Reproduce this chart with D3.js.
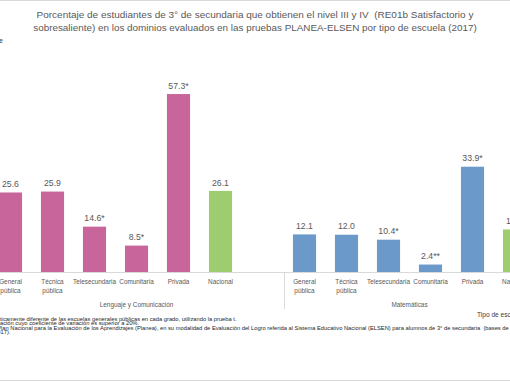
<!DOCTYPE html>
<html><head><meta charset="utf-8">
<script src="https://cdn.jsdelivr.net/npm/d3@7"></script>
<style>html,body{margin:0;padding:0;background:#fff;overflow:hidden}svg{display:block;font-family:"Liberation Sans",Arial,sans-serif}</style>
</head><body>
<script>
const titleLines = ["Porcentaje de estudiantes de 3° de secundaria que obtienen el nivel III y IV  (RE01b Satisfactorio y",
  "sobresaliente) en los dominios evaluados en las pruebas PLANEA-ELSEN por tipo de escuela (2017)"];
const categories = ["General pública","Técnica pública","Telesecundaria","Comunitaria","Privada","Nacional"];
const categoryLines = [["General","pública"],["Técnica","pública"],["Telesecundaria"],["Comunitaria"],["Privada"],["Nacional"]];
const groups = ["Lenguaje y Comunicación","Matemáticas"];
const lenguajeValues = [25.6,25.9,14.6,8.5,57.3,26.1];
const lenguajeLabels = ["25.6","25.9","14.6*","8.5*","57.3*","26.1"];
const matematicasValues = [12.1,12.0,10.4,2.4,33.9,13.7];
const matematicasLabels = ["12.1","12.0","10.4*","2.4**","33.9*","13.7"];
const groupColors = ["#c8659a","#6a99ca"];
const nationalColor = "#9dcd6f";
const noteParts = [
  ["* Estadís", "ticamente diferente de las escuelas generales públicas en cada grado, utilizando la prueba t."],
  ["** Estim", "ación cuyo coeficiente de variación es superior a 20%."],
  ["Fuente: INEE, cálculos con base en el P", "lan Nacional para la Evaluación de los Aprendizajes (Planea), en su modalidad de Evaluación del Logro referida al Sistema Educativo Nacional (ELSEN) para alumnos de 3° de secundaria", "  (bases de datos),"],
  ["20", "17)."]
];
const axisTitle = "Tipo de escuela";
const yTitle = "Porcentaje";

const W = 510, H = 382;
const svg = d3.select("body").append("svg").attr("width", W).attr("height", H);
const txt = "#595959";

svg.append("line").attr("x1",0).attr("x2",W).attr("y1",0.5).attr("y2",0.5).attr("stroke","#d9d9d9");
svg.append("line").attr("x1",0).attr("x2",W).attr("y1",380.5).attr("y2",380.5).attr("stroke","#d9d9d9");

const tY = [17.6, 31.1];
const tW = [437, 444];
titleLines.forEach((t,i)=>{
  const el = svg.append("text").attr("x",255).attr("y",tY[i]).attr("text-anchor","middle")
    .attr("fill",txt).attr("font-size",10).attr("xml:space","preserve").style("white-space","pre").text(t);
  const len = el.node().getComputedTextLength();
  el.attr("font-size", 10*tW[i]/len);
});
svg.append("text").attr("x",3).attr("y",43).attr("text-anchor","end").attr("fill",txt)
  .attr("font-size",7).attr("font-weight","bold").text(yTitle);

const slots = [];
categories.forEach((c,i)=>slots.push({key:"L"+i, g:0, i, v:lenguajeValues[i], lab:lenguajeLabels[i]}));
slots.push({key:"Lblank", g:0, blank:true});
categories.forEach((c,i)=>slots.push({key:"M"+i, g:1, i, v:matematicasValues[i], lab:matematicasLabels[i]}));

const x = d3.scaleBand().domain(slots.map(d=>d.key)).range([-10.5,535.5]).paddingInner(0.45).paddingOuter(0.225);
const y = d3.scaleLinear().domain([0,70]).range([272,54.6]);
const step = x.step();
const gap = (step - x.bandwidth())/2;

const bars = slots.filter(d=>!d.blank);
svg.selectAll("rect.bar").data(bars).join("rect").attr("class","bar")
  .attr("x",d=>x(d.key)).attr("width",x.bandwidth())
  .attr("y",d=>y(d.v)).attr("height",d=>y(0)-y(d.v))
  .attr("fill",d=>d.i===5?nationalColor:groupColors[d.g]);

svg.selectAll("text.val").data(bars).join("text").attr("class","val")
  .attr("x",d=>x(d.key)+x.bandwidth()/2).attr("y",d=>y(d.v)-5.3)
  .attr("text-anchor","middle").attr("fill",txt).attr("font-size",8.7).text(d=>d.lab);

svg.append("line").attr("x1",-10).attr("x2",W).attr("y1",272.5).attr("y2",272.5).attr("stroke","#d9d9d9");
[x("L0")-gap, x("M0")-gap].forEach(sx=>{
  svg.append("line").attr("x1",Math.round(sx)+0.5).attr("x2",Math.round(sx)+0.5).attr("y1",272).attr("y2",309)
    .attr("stroke","#d9d9d9");
});

svg.selectAll("g.cl").data(bars).join("g").attr("class","cl").each(function(d){
  const g = d3.select(this);
  categoryLines[d.i].forEach((l,k)=>{
    g.append("text").attr("x",x(d.key)+x.bandwidth()/2).attr("y",284.3+k*9)
      .attr("text-anchor","middle").attr("fill",txt).attr("font-size",6.4).text(l);
  });
});

groups.forEach((gname,gi)=>{
  const keys = slots.filter(s=>s.g===gi && !s.blank).map(s=>s.key);
  const a = x(keys[0]) - gap;
  const lastKey = gi===0 ? "Lblank" : keys[keys.length-1];
  const b = x(lastKey)+x.bandwidth()+gap;
  svg.append("text").attr("x",(a+b)/2).attr("y",307.4).attr("text-anchor","middle")
    .attr("fill",txt).attr("font-size",6.4).text(gname);
});

svg.append("text").attr("x",477).attr("y",316.6).attr("fill","#404040").attr("font-size",6.6).text(axisTitle);

// notes: font size from the visible width of the first note
const probe = svg.append("text").attr("font-size",10).text(noteParts[0][1]);
const nfs = 10*237/probe.node().getComputedTextLength();
probe.remove();
const noteY = [320.6, 325.2, 329.6, 333.7];
const noteOffset = [0, 0, 1.0, 0.5];
noteParts.forEach((p,i)=>{
  const full = p.join("");
  const t = svg.append("text").attr("x",0).attr("y",noteY[i]).attr("fill","#262626")
    .attr("font-size",nfs).attr("xml:space","preserve").style("white-space","pre").text(full);
  const w = t.node().getSubStringLength(0,p[0].length);
  t.attr("x",-w+noteOffset[i]);
});
</script>
</body></html>
